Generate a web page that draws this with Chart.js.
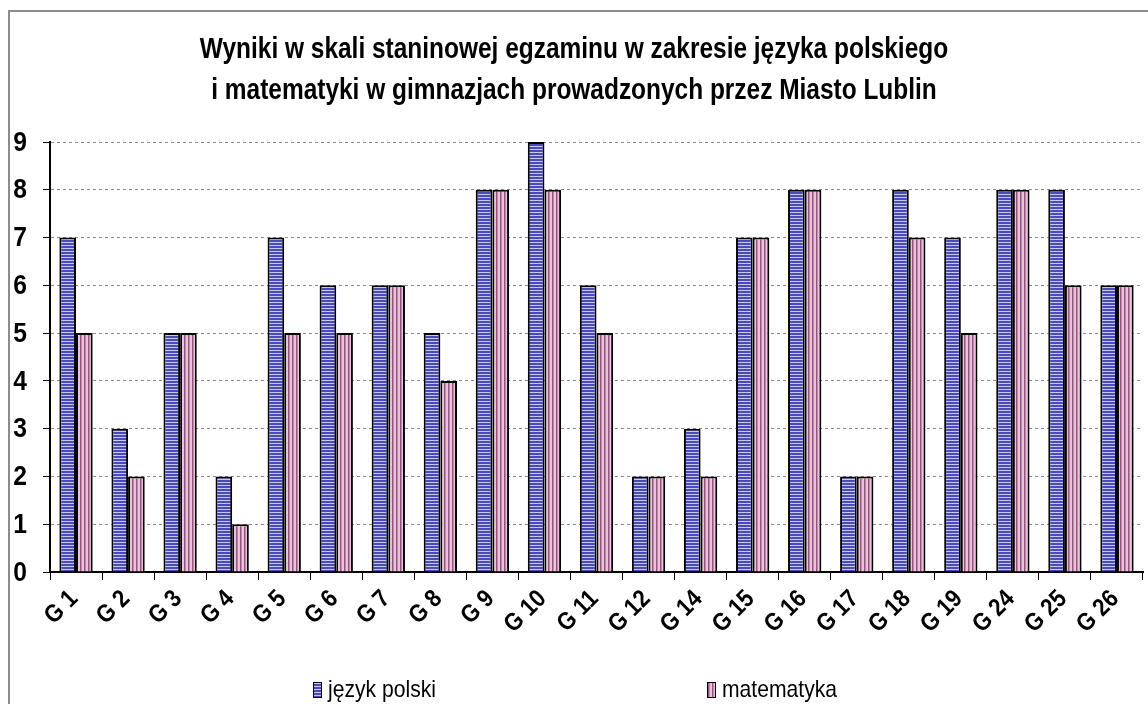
<!DOCTYPE html>
<html>
<head>
<meta charset="utf-8">
<script src="https://cdn.jsdelivr.net/npm/chart.js@4/dist/chart.umd.min.js"></script>
<style>
html,body{margin:0;padding:0;background:#fff;}
#wrap{width:1148px;height:704px;position:relative;}
</style>
</head>
<body>
<div id="wrap"><canvas id="c" width="1148" height="704"></canvas></div>
<script>
const categories = ["G 1","G 2","G 3","G 4","G 5","G 6","G 7","G 8","G 9","G 10","G 11","G 12","G 14","G 15","G 16","G 17","G 18","G 19","G 24","G 25","G 26"];
const polski = [7,3,5,2,7,6,6,5,8,9,6,2,3,7,8,2,8,7,8,8,6];
const matematyka = [5,2,5,1,5,5,6,4,8,8,5,2,2,7,8,2,7,5,8,6,6];
const seriesNames = ["język polski","matematyka"];
const yTicks = [0,1,2,3,4,5,6,7,8,9];
const titleLines = ["Wyniki w skali staninowej egzaminu w zakresie języka polskiego","i matematyki w gimnazjach prowadzonych przez Miasto Lublin"];

const FONT = "'Liberation Sans', Arial, sans-serif";

function makePattern(kind){
  const c = document.createElement('canvas');
  const ctx = c.getContext('2d');
  if(kind === 'h'){
    c.width = 3; c.height = 3;
    ctx.fillStyle = '#c8c8f4'; ctx.fillRect(0,0,3,3);
    ctx.fillStyle = '#4a4ab8'; ctx.fillRect(0,0,3,2);
  } else {
    c.width = 4; c.height = 4;
    ctx.fillStyle = '#e8c4da'; ctx.fillRect(0,0,4,4);
    ctx.fillStyle = '#985480'; ctx.fillRect(0,0,1,4);
    ctx.fillStyle = '#c08aab'; ctx.fillRect(1,0,1,4);
  }
  return document.getElementById('c').getContext('2d').createPattern(c,'repeat');
}
const patBlue = makePattern('h');
const patPink = makePattern('v');

// draws text squeezed horizontally (condensed look)
function squeezed(ctx, text, x, y, sx, align, rot){
  ctx.save();
  ctx.translate(x, y);
  if(rot) ctx.rotate(rot);
  ctx.scale(sx, 1);
  ctx.textAlign = align;
  ctx.fillText(text, 0, 0);
  ctx.restore();
}

const framePlugin = {
  id:'frame',
  beforeDraw(chart){
    const ctx = chart.ctx;
    ctx.save();
    ctx.fillStyle = '#fff';
    ctx.fillRect(0,0,chart.width,chart.height);
    ctx.strokeStyle = '#8c8c8c';
    ctx.lineWidth = 2;
    ctx.beginPath();
    ctx.moveTo(9, chart.height+5);
    ctx.lineTo(9, 11);
    ctx.lineTo(chart.width+5, 11);
    ctx.stroke();
    ctx.restore();
  }
};

const textPlugin = {
  id:'texts',
  afterDraw(chart){
    const ctx = chart.ctx;
    const xs = chart.scales.x, ys = chart.scales.y;
    ctx.save();
    ctx.fillStyle = '#000';
    // title
    ctx.font = 'bold 30px ' + FONT;
    ctx.textBaseline = 'alphabetic';
    const cx = chart.width/2;
    squeezed(ctx, titleLines[0], cx, 58, 0.815, 'center');
    squeezed(ctx, titleLines[1], cx, 99, 0.815, 'center');
    // y tick labels
    ctx.font = 'bold 28px ' + FONT;
    ctx.textBaseline = 'middle';
    ys.ticks.forEach((t)=>{
      squeezed(ctx, String(t.value), 27, ys.getPixelForValue(t.value)+1, 0.88, 'right');
    });
    // x tick labels
    ctx.font = 'bold 25px ' + FONT;
    ctx.textBaseline = 'middle';
    categories.forEach((lab,i)=>{
      const px = xs.getPixelForTick(i);
      squeezed(ctx, lab, px-2, xs.top + 23, 0.88, 'right', -Math.PI/4);
    });
    // legend
    const items = [
      {x:313, fill:patBlue, text:seriesNames[0]},
      {x:707, fill:patPink, text:seriesNames[1]}
    ];
    items.forEach(it=>{
      ctx.fillStyle = it.fill;
      ctx.fillRect(it.x, 682, 8, 15);
      ctx.strokeStyle = '#000';
      ctx.lineWidth = 1;
      ctx.strokeRect(it.x+0.5, 682.5, 8, 15);
      ctx.fillStyle = '#000';
      ctx.font = '24px ' + FONT;
      ctx.textBaseline = 'middle';
      squeezed(ctx, it.text, it.x+15, 690, 0.88, 'left');
    });
    ctx.restore();
  }
};

new Chart(document.getElementById('c'), {
  type:'bar',
  data:{
    labels: categories,
    datasets:[
      {label:seriesNames[0], data:polski, backgroundColor:patBlue, borderColor:'#000', borderWidth:2, borderSkipped:'bottom'},
      {label:seriesNames[1], data:matematyka, backgroundColor:patPink, borderColor:'#000', borderWidth:2, borderSkipped:'bottom'}
    ]
  },
  options:{
    responsive:false,
    animation:false,
    devicePixelRatio:1,
    layout:{padding:{left:0,right:5,top:142,bottom:0}},
    datasets:{bar:{categoryPercentage:0.64, barPercentage:1}},
    plugins:{
      legend:{display:false},
      tooltip:{enabled:false},
      title:{display:false}
    },
    scales:{
      x:{
        grid:{display:true, drawOnChartArea:false, drawTicks:true, tickLength:8, color:'#000', offset:true},
        border:{display:true, color:'#000', width:2},
        ticks:{display:false, autoSkip:false},
        afterFit(s){ s.height = 132; }
      },
      y:{
        min:0, max:9,
        afterBuildTicks(s){ s.ticks = yTicks.map(v=>({value:v})); },
        grid:{color:'#8a8a8a', lineWidth:1, tickLength:7, tickColor:'#000', tickBorderDash:[]},
        border:{display:true, color:'#000', width:2, dash:[3,3]},
        ticks:{display:false},
        afterFit(s){ s.width = 50; }
      }
    }
  },
  plugins:[framePlugin, textPlugin]
});
</script>
</body>
</html>
